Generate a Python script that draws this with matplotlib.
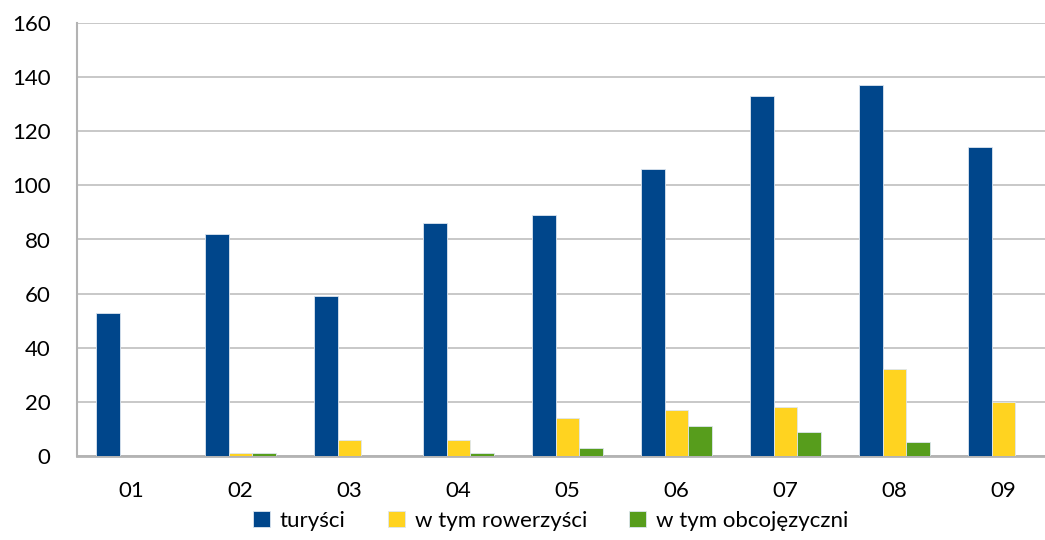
import matplotlib
matplotlib.use("Agg")
import matplotlib.pyplot as plt
import numpy as np

categories = ["01", "02", "03", "04", "05", "06", "07", "08", "09"]
turysci = [53, 82, 59, 86, 89, 106, 133, 137, 114]
rowerzysci = [0, 1, 6, 6, 14, 17, 18, 32, 20]
obcojezyczni = [0, 1, 0, 1, 3, 11, 9, 5, 0]
series_names = ["turyści", "w tym rowerzyści", "w tym obcojęzyczni"]
colors = ["#00468B", "#FFD320", "#579D1C"]

plt.rcParams['font.family'] = ['Lato', 'DejaVu Sans']

fig = plt.figure(figsize=(10.45, 5.4), dpi=100)
ax = fig.add_axes([77/1045, 84/540, 981/1045, 433/540])

x = np.arange(len(categories))
w = 0.22
for i, (vals, name, c) in enumerate(zip([turysci, rowerzysci, obcojezyczni], series_names, colors)):
    ax.bar(x + (i - 1) * w, vals, width=w, color=c, label=name,
           edgecolor="#DDE6F0", linewidth=0.6, zorder=3)

ax.set_xlim(-0.5, 8.5)
ax.set_ylim(0, 160)
ax.set_yticks(np.arange(0, 161, 20))
ax.set_xticks(x)
ax.set_xticklabels(categories)
ax.tick_params(axis='both', length=0, labelsize=16, colors="#000000")
ax.tick_params(axis='x', pad=18)
ax.tick_params(axis='y', pad=19)
ax.grid(axis='y', color="#BFBFBF", linewidth=1.2, zorder=0)
ax.set_axisbelow(True)
for s in ["top", "right"]:
    ax.spines[s].set_visible(False)
ax.spines["left"].set_color("#B3B3B3")
ax.spines["left"].set_linewidth(1.5)
ax.spines["bottom"].set_color("#B3B3B3")
ax.spines["bottom"].set_linewidth(2)

handles, labels = ax.get_legend_handles_labels()
fig.legend(handles, labels, loc="lower center", bbox_to_anchor=(0.527, -0.02),
           ncol=3, frameon=False, fontsize=16, handlelength=0.75, handleheight=0.75,
           handletextpad=0.45, columnspacing=1.9)

fig.savefig("out.png", dpi=100)
